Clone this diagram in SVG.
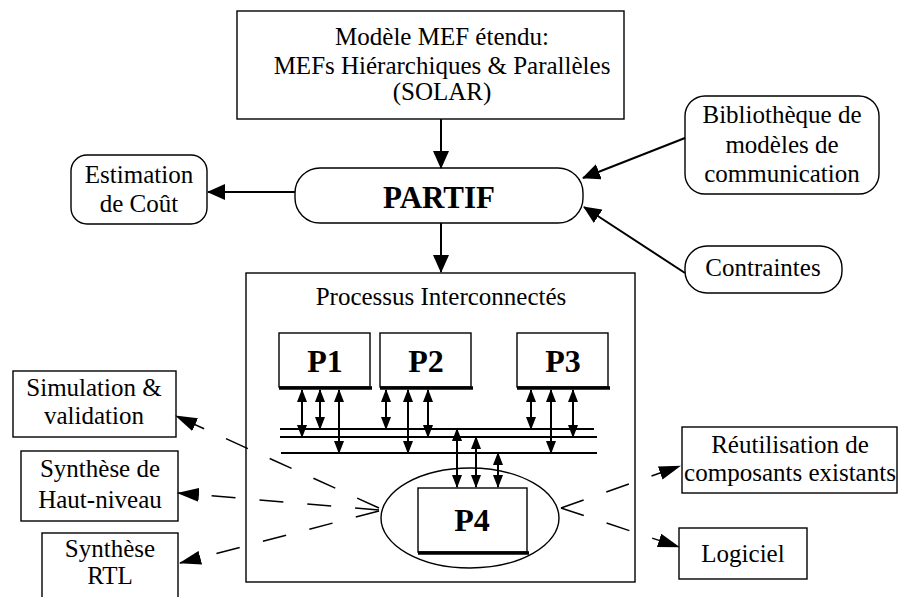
<svg xmlns="http://www.w3.org/2000/svg" width="898" height="597" viewBox="0 0 898 597">
<defs>
<style>
.box{fill:#fff;stroke:#000;stroke-width:1.4}
.t{font-family:"Liberation Serif","Times New Roman",serif;font-size:25px;text-anchor:middle;fill:#000}
.b{font-family:"Liberation Serif","Times New Roman",serif;font-weight:bold;text-anchor:middle;fill:#000}
.ar{fill:none;stroke:#000;stroke-width:2}
.bus{fill:none;stroke:#000;stroke-width:2}
.dash{fill:none;stroke:#000;stroke-width:1.5;stroke-dasharray:24 24}
.thick{stroke:#000;stroke-width:3.5}
</style>
<marker id="big" viewBox="0 0 18 16" markerWidth="18" markerHeight="16" refX="17" refY="8" orient="auto" markerUnits="userSpaceOnUse"><path d="M0,0 L18,8 L0,16 z" fill="#000"/></marker>
<marker id="sm" viewBox="0 0 13 10" markerWidth="13" markerHeight="10" refX="12" refY="5" orient="auto-start-reverse" markerUnits="userSpaceOnUse"><path d="M0,0 L13,5 L0,10 z" fill="#000"/></marker>
<marker id="da" viewBox="0 0 22 14" markerWidth="22" markerHeight="14" refX="21" refY="7" orient="auto" markerUnits="userSpaceOnUse"><path d="M0,0 L22,7 L0,14 z" fill="#000"/></marker>
</defs>
<rect width="898" height="597" fill="#fff"/>

<g id="modele">
<rect class="box" x="237" y="11" width="387" height="108"/>
<text class="t" x="442" y="45">Modèle MEF étendu:</text>
<text class="t" x="442" y="74">MEFs Hiérarchiques &amp; Parallèles</text>
<text class="t" x="442" y="100">(SOLAR)</text>
</g>

<g id="partif">
<rect class="box" x="295" y="168" width="288" height="55" rx="25" ry="25"/>
<text class="b" x="439" y="208" font-size="31">PARTIF</text>
</g>

<g id="estimation">
<rect class="box" x="71" y="155" width="136" height="69" rx="16" ry="16"/>
<text class="t" x="139" y="183">Estimation</text>
<text class="t" x="139" y="212">de Coût</text>
</g>

<g id="bibliotheque">
<rect class="box" x="685" y="96" width="194" height="98" rx="20" ry="20"/>
<text class="t" x="782" y="123">Bibliothèque de</text>
<text class="t" x="782" y="153">modèles de</text>
<text class="t" x="782" y="182">communication</text>
</g>

<g id="contraintes">
<rect class="box" x="685" y="246" width="157" height="47" rx="22" ry="22"/>
<text class="t" x="763" y="276">Contraintes</text>
</g>

<g id="processus">
<rect class="box" x="246" y="273" width="389" height="309"/>
<text class="t" x="441" y="305">Processus Interconnectés</text>
</g>

<g id="p1">
<rect class="box" x="279" y="333" width="91" height="54"/>
<line class="thick" x1="279" y1="388" x2="372" y2="388"/>
<text class="b" x="325" y="372" font-size="32">P1</text>
</g>
<g id="p2">
<rect class="box" x="380" y="333" width="91" height="54"/>
<line class="thick" x1="380" y1="388" x2="473" y2="388"/>
<text class="b" x="426" y="372" font-size="32">P2</text>
</g>
<g id="p3">
<rect class="box" x="517" y="333" width="91" height="54"/>
<line class="thick" x1="517" y1="388" x2="610" y2="388"/>
<text class="b" x="563" y="372" font-size="32">P3</text>
</g>

<g id="p4">
<ellipse cx="470" cy="518" rx="89" ry="50" fill="#fff" stroke="#000" stroke-width="1.4"/>
<rect class="box" x="418" y="488" width="109" height="64"/>
<line class="thick" x1="418" y1="553" x2="529" y2="553"/>
<text class="b" x="472" y="531" font-size="32">P4</text>
</g>

<g id="simulation">
<rect class="box" x="13" y="371" width="163" height="66"/>
<text class="t" x="94" y="396">Simulation &amp;</text>
<text class="t" x="94" y="424">validation</text>
</g>

<g id="haut-niveau">
<rect class="box" x="21" y="451" width="157" height="70"/>
<text class="t" x="100" y="477">Synthèse de</text>
<text class="t" x="100" y="508">Haut-niveau</text>
</g>

<g id="rtl">
<rect class="box" x="42" y="533" width="136" height="70"/>
<text class="t" x="110" y="557">Synthèse</text>
<text class="t" x="110" y="584">RTL</text>
</g>

<g id="reutilisation">
<rect class="box" x="682" y="427" width="215" height="66"/>
<text class="t" x="790" y="453">Réutilisation de</text>
<text class="t" x="790" y="481">composants existants</text>
</g>

<g id="logiciel">
<rect class="box" x="679" y="528" width="128" height="51"/>
<text class="t" x="743" y="562">Logiciel</text>
</g>

<g id="connectors">
<path class="ar" d="M441,119 L441,168" marker-end="url(#big)"/>
<path class="ar" d="M441,223 L441,272" marker-end="url(#big)"/>
<path class="ar" d="M295,192 L208,192" marker-end="url(#big)"/>
<path class="ar" d="M685,138 L583,178" marker-end="url(#big)"/>
<path class="ar" d="M685,273 L584,207" marker-end="url(#big)"/>

<line class="bus" x1="280" y1="429" x2="594" y2="429"/>
<line class="bus" x1="280" y1="437" x2="597" y2="437"/>
<line class="bus" x1="281" y1="453" x2="597" y2="453"/>

<path class="ar" d="M302,390 L302,437" marker-start="url(#sm)" marker-end="url(#sm)"/>
<path class="ar" d="M320,390 L320,429" marker-start="url(#sm)" marker-end="url(#sm)"/>
<path class="ar" d="M339,390 L339,453" marker-start="url(#sm)" marker-end="url(#sm)"/>
<path class="ar" d="M386,390 L386,429" marker-start="url(#sm)" marker-end="url(#sm)"/>
<path class="ar" d="M408,390 L408,453" marker-start="url(#sm)" marker-end="url(#sm)"/>
<path class="ar" d="M428,390 L428,437" marker-start="url(#sm)" marker-end="url(#sm)"/>
<path class="ar" d="M531,390 L531,429" marker-start="url(#sm)" marker-end="url(#sm)"/>
<path class="ar" d="M551,390 L551,453" marker-start="url(#sm)" marker-end="url(#sm)"/>
<path class="ar" d="M573,390 L573,437" marker-start="url(#sm)" marker-end="url(#sm)"/>
<path class="ar" d="M457,429 L457,487" marker-start="url(#sm)" marker-end="url(#sm)"/>
<path class="ar" d="M476,437 L476,487" marker-start="url(#sm)" marker-end="url(#sm)"/>
<path class="ar" d="M498,453 L498,487" marker-start="url(#sm)" marker-end="url(#sm)"/>

<path class="dash" d="M379,508 L176,416" marker-end="url(#da)"/>
<path class="dash" d="M379,510 L178,493" marker-end="url(#da)"/>
<path class="dash" d="M379,511 L180,563" marker-end="url(#da)"/>
<path class="dash" d="M561,508 L680,466" marker-end="url(#da)"/>
<path class="dash" d="M561,508 L679,547" marker-end="url(#da)"/>
</g>
</svg>
